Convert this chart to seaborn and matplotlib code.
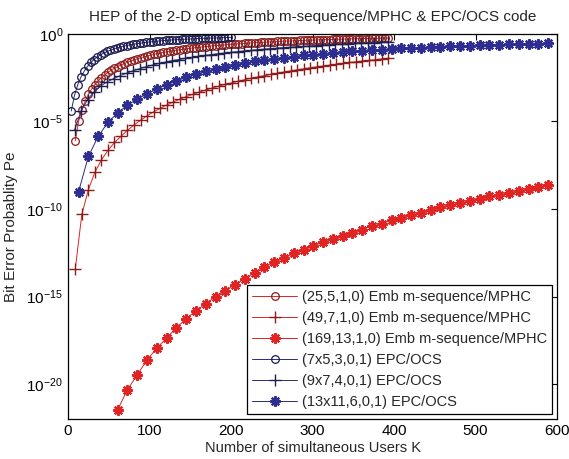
import numpy as np
import pandas as pd
import matplotlib
matplotlib.use("Agg")
import matplotlib.pyplot as plt
import seaborn as sns

# ---------------- data (log10 of Pe) ----------------
k_emb25 = list(range(9, 394, 4))
log_emb25 = [-6.1, -5.0, -4.35, -3.85, -3.45, -3.15, -2.9, -2.68, -2.5, -2.34,
             -2.2, -2.07, -1.96, -1.86, -1.77, -1.69, -1.61, -1.54, -1.48, -1.42,
             -1.36, -1.31, -1.26, -1.21, -1.17, -1.13, -1.09, -1.05, -1.02, -0.99,
             -0.96, -0.93, -0.9, -0.87, -0.85, -0.82, -0.8, -0.78, -0.76, -0.74,
             -0.72, -0.7, -0.68, -0.66, -0.65, -0.63, -0.62, -0.6, -0.59, -0.57,
             -0.56, -0.55, -0.53, -0.52, -0.51, -0.5, -0.49, -0.48, -0.47, -0.46,
             -0.45, -0.44, -0.43, -0.42, -0.41, -0.4, -0.4, -0.39, -0.38, -0.37,
             -0.37, -0.36, -0.35, -0.35, -0.34, -0.33, -0.33, -0.32, -0.32, -0.31,
             -0.3, -0.3, -0.29, -0.29, -0.28, -0.28, -0.27, -0.27, -0.26, -0.26,
             -0.26, -0.25, -0.25, -0.24, -0.24, -0.24, -0.23]

k_emb49 = list(range(9, 394, 8))
log_emb49 = [-13.4, -10.3, -8.9, -7.9, -7.2, -6.65, -6.2, -5.85, -5.5, -5.2,
             -4.93, -4.68, -4.45, -4.25, -4.06, -3.89, -3.73, -3.58, -3.45, -3.32,
             -3.2, -3.09, -2.98, -2.88, -2.79, -2.7, -2.61, -2.53, -2.45, -2.38,
             -2.31, -2.24, -2.17, -2.11, -2.05, -1.99, -1.93, -1.88, -1.83, -1.78,
             -1.73, -1.68, -1.63, -1.59, -1.55, -1.51, -1.47, -1.43, -1.39]

k_emb169 = list(range(61, 590, 12))
log_emb169 = [-21.46, -20.32, -19.47, -18.62, -17.95, -17.37, -16.78, -16.27, -15.81, -15.41,
              -15.02, -14.66, -14.32, -13.98, -13.64, -13.33, -13.05, -12.82, -12.54, -12.37,
              -12.1, -11.89, -11.72, -11.52, -11.35, -11.18, -10.97, -10.85, -10.63, -10.51,
              -10.34, -10.21, -10.07, -9.9, -9.76, -9.66, -9.53, -9.41, -9.26, -9.19,
              -9.07, -8.96, -8.85, -8.73, -8.62]

k_epc7 = list(range(4, 201, 4))
log_epc7 = [-4.4, -3.5, -2.9, -2.45, -2.12, -1.85, -1.63, -1.46, -1.31, -1.19,
            -1.09, -1.0, -0.93, -0.86, -0.8, -0.75, -0.7, -0.66, -0.62, -0.59,
            -0.56, -0.53, -0.5, -0.48, -0.46, -0.44, -0.42, -0.4, -0.38, -0.37,
            -0.35, -0.34, -0.33, -0.32, -0.31, -0.3, -0.29, -0.28, -0.27, -0.26,
            -0.25, -0.25, -0.24, -0.23, -0.23, -0.22, -0.21, -0.21, -0.2, -0.2]

k_epc9 = list(range(8, 393, 8))
log_epc9 = [-5.5, -4.4, -3.75, -3.3, -2.98, -2.74, -2.55, -2.38, -2.24, -2.1,
            -1.98, -1.87, -1.77, -1.68, -1.6, -1.52, -1.46, -1.4, -1.34, -1.28,
            -1.23, -1.18, -1.13, -1.09, -1.05, -1.01, -0.97, -0.94, -0.9, -0.87,
            -0.84, -0.81, -0.78, -0.76, -0.73, -0.71, -0.68, -0.66, -0.64, -0.62,
            -0.6, -0.58, -0.56, -0.54, -0.52, -0.5, -0.49, -0.47, -0.45]

k_epc13 = list(range(13, 590, 12))
log_epc13 = [-9.0, -7.0, -5.85, -5.05, -4.5, -4.07, -3.72, -3.42, -3.15, -2.9,
             -2.68, -2.48, -2.3, -2.14, -2.0, -1.87, -1.76, -1.66, -1.57, -1.49,
             -1.42, -1.35, -1.29, -1.23, -1.18, -1.13, -1.08, -1.04, -1.0, -0.96,
             -0.93, -0.89, -0.86, -0.83, -0.8, -0.78, -0.75, -0.73, -0.71, -0.69,
             -0.67, -0.65, -0.63, -0.61, -0.6, -0.58, -0.57, -0.55, -0.54]

labels = ["(25,5,1,0) Emb m-sequence/MPHC",
          "(49,7,1,0) Emb m-sequence/MPHC",
          "(169,13,1,0) Emb m-sequence/MPHC",
          "(7x5,3,0,1) EPC/OCS",
          "(9x7,4,0,1) EPC/OCS",
          "(13x11,6,0,1) EPC/OCS"]

title = "HEP of the 2-D optical Emb m-sequence/MPHC & EPC/OCS code"
xlabel = "Number of simultaneous Users K"
ylabel = "Bit Error Probablity Pe"
xticks = [0, 100, 200, 300, 400, 500, 600]
yticks = [1e-20, 1e-15, 1e-10, 1e-5, 1e0]

# ---------------- style ----------------
sns.set_style("white")
plt.rcParams["font.family"] = ["Liberation Sans", "DejaVu Sans"]
plt.rcParams["mathtext.default"] = "regular"
plt.rcParams["xtick.direction"] = "in"
plt.rcParams["ytick.direction"] = "in"

RED_LINE = "#e02424"
RED_EDGE = "#8c1c1c"
BLUE_LINE = "#2a2a78"
BLUE_EDGE = "#2e2e90"

fig = plt.figure(figsize=(5.69, 4.59), dpi=100)
ax = fig.add_axes([0.1195, 0.087, 0.8595, 0.839])

series = [
    (k_emb25, log_emb25, dict(marker="o", markersize=5.5, markerfacecolor="none",
                              markeredgecolor=RED_EDGE, markeredgewidth=0.9, color=RED_LINE)),
    (k_emb49, log_emb49, dict(marker="+", markersize=8, markeredgecolor=RED_EDGE,
                              markeredgewidth=1.0, color=RED_LINE)),
    (k_emb169, log_emb169, dict(marker=(8, 2, 0), markersize=7.5, markeredgecolor=RED_LINE,
                                markeredgewidth=1.6, color=RED_LINE)),
    (k_epc7, log_epc7, dict(marker="o", markersize=5.5, markerfacecolor="none",
                            markeredgecolor="#1a1a50", markeredgewidth=0.9, color=BLUE_LINE)),
    (k_epc9, log_epc9, dict(marker="+", markersize=8, markeredgecolor="#202050",
                            markeredgewidth=1.0, color=BLUE_LINE)),
    (k_epc13, log_epc13, dict(marker=(8, 2, 0), markersize=7.5, markeredgecolor=BLUE_EDGE,
                              markeredgewidth=1.6, color=BLUE_LINE)),
]

for (k, lg, kw), lab in zip(series, labels):
    df = pd.DataFrame({"K": k, "Pe": np.power(10.0, lg)})
    sns.lineplot(data=df, x="K", y="Pe", ax=ax, label=lab, linewidth=0.7,
                 estimator=None, sort=False, **kw)

ax.set_yscale("log")
ax.set_xlim(0, 600)
ax.set_ylim(1e-22, 1e0)
ax.set_xticks(xticks)
ax.set_yticks(yticks)
ax.yaxis.set_minor_locator(matplotlib.ticker.NullLocator())
ax.tick_params(axis="both", which="major", labelsize=11, length=4, width=0.8,
               top=True, right=True, colors="black")
for s in ax.spines.values():
    s.set_color("black")
    s.set_linewidth(0.9)

ax.set_title(title, fontsize=11, pad=9)
ax.set_xlabel(xlabel, fontsize=10.5, labelpad=2)
ax.set_ylabel(ylabel, fontsize=11, labelpad=6)

leg = ax.legend(loc="lower right", fontsize=10.5, frameon=True, fancybox=False,
                edgecolor="black", framealpha=1, handlelength=3.1, handletextpad=0.3,
                borderpad=0.35, labelspacing=0.48, borderaxespad=0.35)
leg.get_frame().set_linewidth(0.9)

fig.savefig("out.png", dpi=100)
